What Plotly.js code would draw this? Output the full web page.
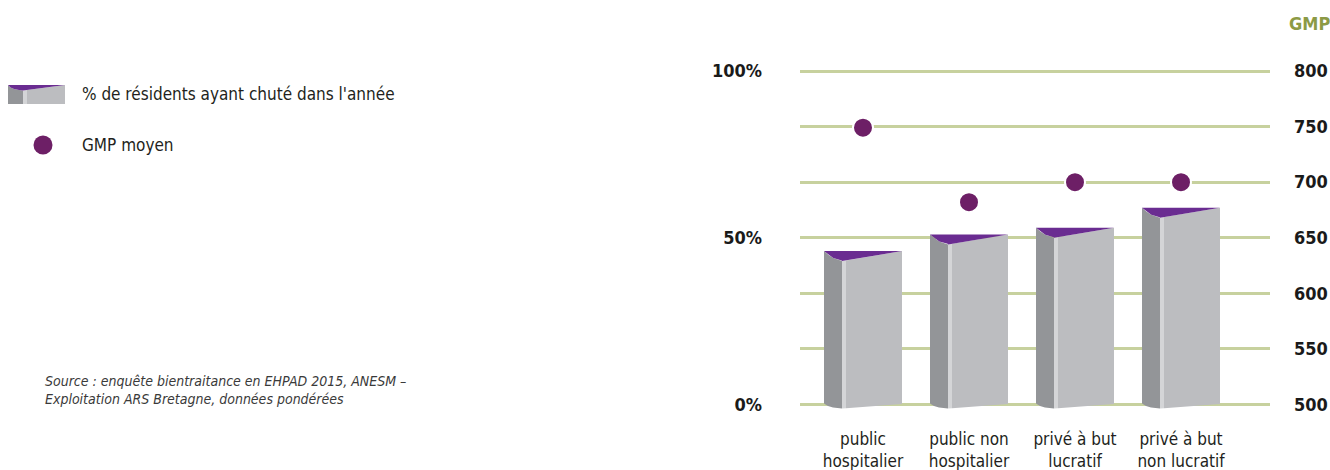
<!DOCTYPE html>
<html><head><meta charset="utf-8">
<script src="https://cdn.plot.ly/plotly-3.0.1.min.js"></script>
<style>html,body{margin:0;padding:0;background:#fff;}#chart{width:1330px;height:470px;}</style>
</head><body><div id="chart"></div>
<script>
// ---- data ----
const categories = ['public<br>hospitalier', 'public non<br>hospitalier', 'privé à but<br>lucratif', 'privé à but<br>non lucratif'];
const fallPct = [46, 51, 53, 59];          // % de résidents ayant chuté dans l'année
const gmpMean = [749, 682, 700, 700];      // GMP moyen
const pctTickVals = [0, 50, 100];
const pctTickText = ['0%', '50%', '100%'];
const gmpTickVals = [500, 550, 600, 650, 700, 750, 800];

// ---- styling / geometry ----
const W = 1330, H = 470;
const FONT = 'Liberation Sans Narrow, DejaVu Sans Condensed, Arial Narrow, sans-serif';
const C_DARK = '#939598', C_STRIPE = '#d4d5d7', C_FRONT = '#bcbdc0', C_TOP = '#6a2c91', C_DOT = '#6d1f66';
const GRID = '#c7d19e';
const pxPerCat = 106, pxPerPct = 3.335;
const xPxL = 800, xPxR = 1270, catPx0 = 863;
const yRange = [-5, 105];
const zeroPx = 404.5;
const botPx = zeroPx - yRange[0] * pxPerPct;
const topPx = zeroPx - yRange[1] * pxPerPct;
const fx = p => p / W, fy = p => 1 - p / H;

// gridlines at sixths of 100%
const gridVals = [], gridText = [];
for (let k = 0; k <= 6; k++) {
  const v = k * 100 / 6; gridVals.push(v);
  const idx = pctTickVals.indexOf(Math.round(v));
  gridText.push(Math.abs(v - Math.round(v)) < 1e-6 && idx >= 0 ? pctTickText[idx] : '');
}

function poly(i, v, tops, bots, color) {
  const xs = [], ys = [];
  tops.forEach(([ox, oy]) => { xs.push(i + ox / pxPerCat); ys.push(v - oy / pxPerPct); });
  bots.forEach(([ox, oy]) => { xs.push(i + ox / pxPerCat); ys.push(0 - oy / pxPerPct); });
  xs.push(xs[0]); ys.push(ys[0]);
  return { type: 'scatter', mode: 'lines', x: xs, y: ys, fill: 'toself', fillcolor: color,
           line: { width: 0, color: color }, hoverinfo: 'skip', showlegend: false };
}
function polyTop(i, v, pts, color) {
  const xs = pts.map(([ox]) => i + ox / pxPerCat), ys = pts.map(([, oy]) => v - oy / pxPerPct);
  xs.push(xs[0]); ys.push(ys[0]);
  return { type: 'scatter', mode: 'lines', x: xs, y: ys, fill: 'toself', fillcolor: color,
           line: { width: 0, color: color }, hoverinfo: 'skip', showlegend: false };
}

const traces = [];
fallPct.forEach((v, i) => {
  traces.push(poly(i, v, [[-39, 0], [-34.7, 3.7], [-29.7, 7], [-21.3, 9.4], [-21, 10]],
                         [[-21, 4], [-30, 3], [-35, 1.5], [-39, -1]], C_DARK));
  traces.push(poly(i, v, [[-21, 10], [-17, 9.33]], [[-17, 3.7], [-21, 4]], C_STRIPE));
  traces.push(poly(i, v, [[-17, 9.33], [39, 0]], [[39, -0.5], [-17, 3.7]], C_FRONT));
  traces.push(polyTop(i, v, [[-39, 0], [39, 0], [-21, 10], [-21.3, 9.4], [-29.7, 7], [-34.7, 3.7]], C_TOP));
});

traces.push({
  type: 'scatter', mode: 'markers', x: categories.map((_, i) => i), y: gmpMean, yaxis: 'y2',
  marker: { size: 20, color: C_DOT, line: { color: '#ffffff', width: 2 } },
  showlegend: false, hovertemplate: 'GMP %{y}<extra></extra>'
});

const gmpMin = gmpTickVals[0], gmpMax = gmpTickVals[gmpTickVals.length - 1];
const gmpPerPct = (gmpMax - gmpMin) / 100;

function pPath(pts) {
  return 'M' + pts.map(([x, y]) => fx(x).toFixed(5) + ',' + fy(y).toFixed(5)).join(' L') + ' Z';
}
const shapes = [
  { type: 'path', xref: 'paper', yref: 'paper', path: pPath([[8, 85], [10.5, 87.5], [14, 89], [19, 90], [23, 90.5], [23, 104], [8, 104]]), fillcolor: C_DARK, line: { width: 0 } },
  { type: 'path', xref: 'paper', yref: 'paper', path: pPath([[23, 90.5], [27, 90], [27, 104], [23, 104]]), fillcolor: C_STRIPE, line: { width: 0 } },
  { type: 'path', xref: 'paper', yref: 'paper', path: pPath([[27, 90], [65, 85], [65, 104], [27, 104]]), fillcolor: C_FRONT, line: { width: 0 } },
  { type: 'path', xref: 'paper', yref: 'paper', path: pPath([[8, 85], [65, 85], [23, 90.5], [19, 90], [14, 89], [10.5, 87.5]]), fillcolor: C_TOP, line: { width: 0 } },
  { type: 'circle', xref: 'paper', yref: 'paper', x0: fx(33.5), x1: fx(52.5), y0: fy(154.5), y1: fy(135.5), fillcolor: C_DOT, line: { width: 0 } }
];

const annotations = [
  { xref: 'paper', yref: 'paper', x: fx(80), y: fy(94), xanchor: 'left', yanchor: 'middle', showarrow: false,
    text: "% de résidents ayant chuté dans l'année", font: { family: FONT, size: 17, color: '#231f20' } },
  { xref: 'paper', yref: 'paper', x: fx(80), y: fy(145), xanchor: 'left', yanchor: 'middle', showarrow: false,
    text: 'GMP moyen', font: { family: FONT, size: 17, color: '#231f20' } },
  { xref: 'paper', yref: 'paper', x: fx(43), y: fy(390), xanchor: 'left', yanchor: 'middle', showarrow: false, align: 'left',
    text: 'Source : enquête bientraitance en EHPAD 2015, ANESM –<br>Exploitation ARS Bretagne, données pondérées',
    font: { family: FONT, size: 14, color: '#3a3a3a', style: 'italic' } },
  { xref: 'paper', yref: 'paper', x: fx(1309), y: fy(23), xanchor: 'center', yanchor: 'middle', showarrow: false,
    text: 'GMP', font: { family: FONT, size: 18, color: '#8c9a45', weight: 'bold' } }
];

const layout = {
  width: W, height: H, margin: { l: 0, r: 0, t: 0, b: 0 },
  paper_bgcolor: '#ffffff', plot_bgcolor: 'rgba(0,0,0,0)', showlegend: false,
  xaxis: {
    domain: [fx(xPxL), fx(xPxR)],
    range: [(xPxL - catPx0) / pxPerCat, (xPxR - catPx0) / pxPerCat],
    tickmode: 'array', tickvals: categories.map((_, i) => i), ticktext: categories,
    showgrid: false, zeroline: false, showline: false, ticks: '', ticklabelstandoff: 6,
    tickfont: { family: FONT, size: 17, color: '#231f20' }, fixedrange: true
  },
  yaxis: {
    domain: [fy(botPx), fy(topPx)], range: yRange,
    tickmode: 'array', tickvals: gridVals, ticktext: gridText,
    showgrid: true, gridcolor: GRID, gridwidth: 3, zeroline: false, showline: false, ticks: '',
    ticklabelstandoff: 37, tickfont: { family: FONT, size: 18, color: '#1a1a1a', weight: 'bold' }, fixedrange: true
  },
  yaxis2: {
    overlaying: 'y', side: 'right',
    range: [gmpMin + yRange[0] * gmpPerPct, gmpMin + yRange[1] * gmpPerPct],
    tickmode: 'array', tickvals: gmpTickVals, ticktext: gmpTickVals.map(String),
    showgrid: false, zeroline: false, showline: false, ticks: '',
    ticklabelstandoff: 23, tickfont: { family: FONT, size: 18, color: '#1a1a1a', weight: 'bold' }, fixedrange: true
  },
  shapes: shapes,
  annotations: annotations
};

Plotly.newPlot('chart', traces, layout, { displayModeBar: false, staticPlot: true });
</script>
</body></html>
